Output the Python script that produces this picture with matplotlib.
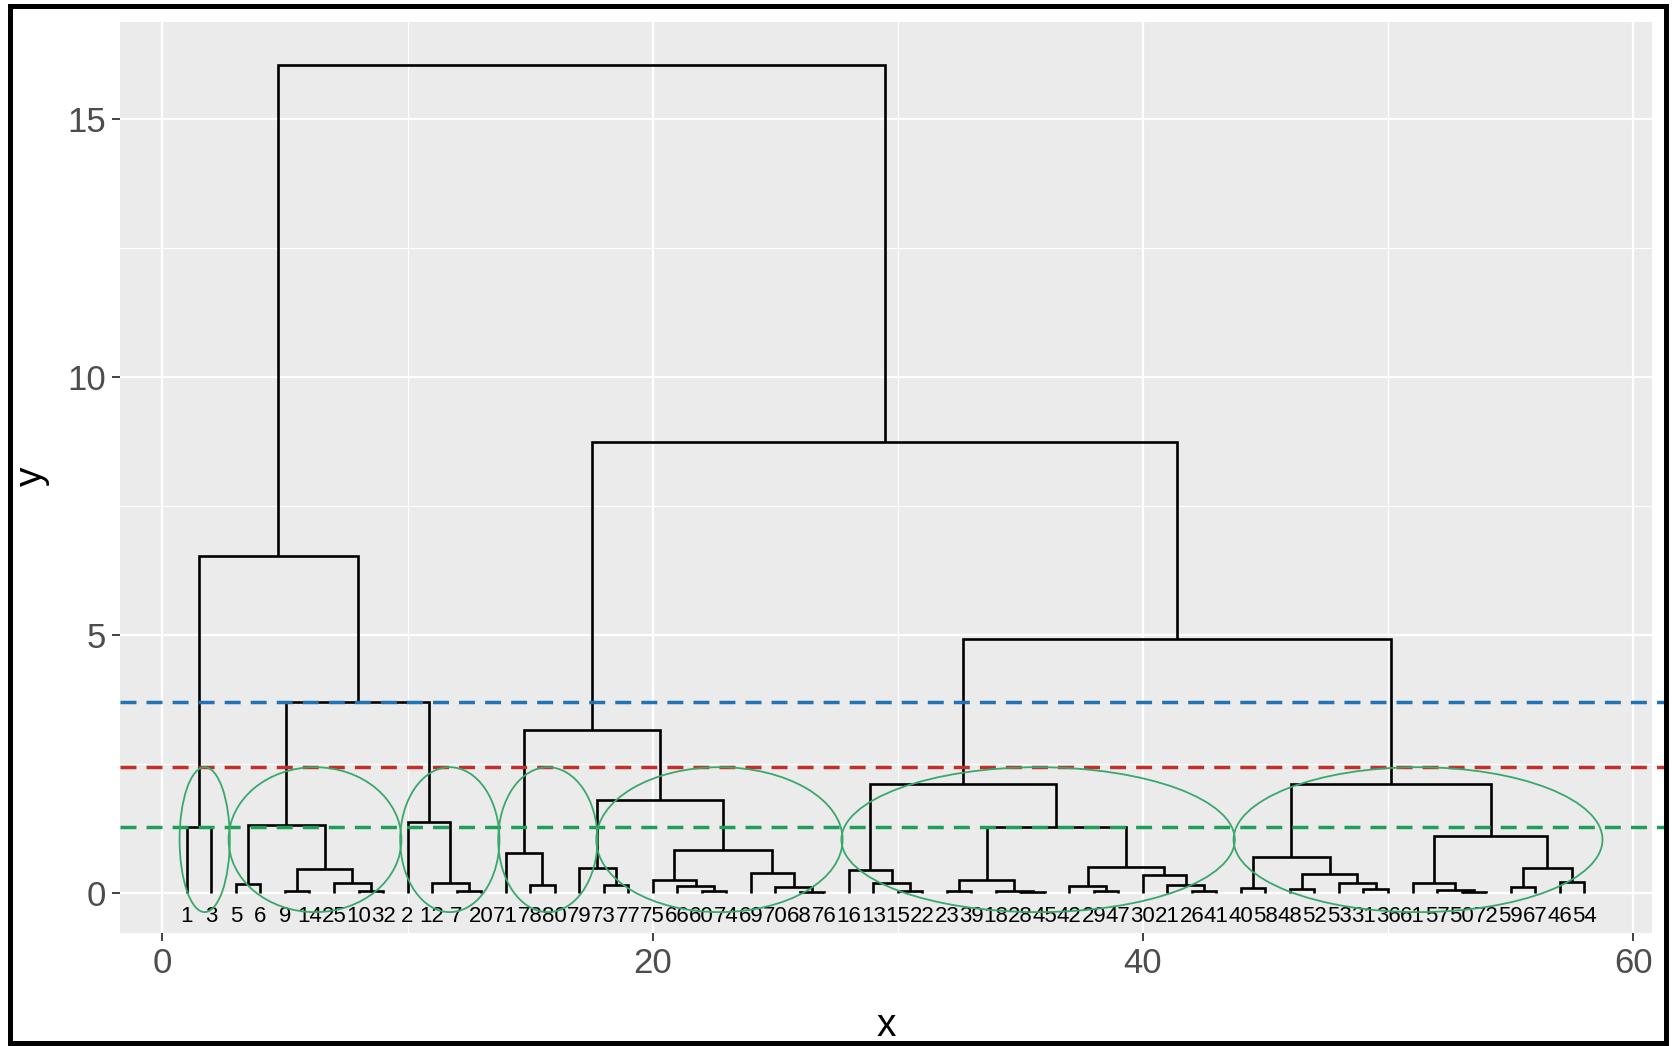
import matplotlib.pyplot as plt
import matplotlib.transforms as mtransforms
from matplotlib.patches import Ellipse, Rectangle

plt.rcParams['font.family'] = ['Liberation Sans Narrow', 'Liberation Sans', 'DejaVu Sans']

# dendrogram sub-clusters: [left, right, merge height], leaves are label strings
grp_a1 = ['1', '3', 1.27]
grp_a2 = [['5', '6', 0.17],
          [['9', '14', 0.03], ['25', ['10', '32', 0.02], 0.18], 0.45], 1.31]
grp_a3 = ['2', ['12', ['7', '20', 0.02], 0.18], 1.37]
grp_b1 = ['71', ['78', '80', 0.15], 0.76]
grp_b2 = [['79', ['73', '77', 0.15], 0.47],
          [['75', ['66', ['60', '74', 0.02], 0.13], 0.24],
           ['69', ['70', ['68', '76', 0.01], 0.10], 0.37], 0.82], 1.79]
grp_c1 = [['16', ['13', ['15', '22', 0.02], 0.18], 0.44],
          [[['23', '39', 0.02], ['18', ['28', '45', 0.01], 0.03], 0.24],
           [['42', ['29', '47', 0.02], 0.13],
            ['30', ['21', ['26', '41', 0.02], 0.15], 0.34], 0.50], 1.28], 2.11]
grp_c2 = [[['40', '58', 0.08],
           [['48', '52', 0.06], ['53', ['31', '36', 0.07], 0.19], 0.36], 0.69],
          [['61', ['57', ['50', '72', 0.01], 0.05], 0.18],
           [['59', '67', 0.11], ['46', '54', 0.21], 0.47], 1.09], 2.11]

left_tree = [grp_a1, [grp_a2, grp_a3, 3.70], 6.53]
right_tree = [[grp_b1, grp_b2, 3.15], [grp_c1, grp_c2, 4.91], 8.74]
root = [left_tree, right_tree, 16.05]

# cut heights (dashed lines)
cut_heights = [3.70, 2.43, 1.28]
cut_colors = ['#2272b6', '#c52f2a', '#1f9e57']

# hand drawn ellipses: first and last leaf enclosed
ellipse_spans = [('1', '3'), ('5', '32'), ('2', '20'), ('71', '79'),
                 ('73', '76'), ('16', '41'), ('40', '54')]


def layout(node, leaves, paths):
    if isinstance(node, str):
        leaves.append(node)
        return float(len(leaves)), 0.0
    left, right, h = node
    xl, hl = layout(left, leaves, paths)
    xr, hr = layout(right, leaves, paths)
    paths.append(([xl, xl, xr, xr], [hl, h, h, hr]))
    return (xl + xr) / 2, h


leaves = []
paths = []
layout(root, leaves, paths)
pos = {lab: i + 1 for i, lab in enumerate(leaves)}

fig = plt.figure(figsize=(16.76, 10.46), dpi=100)
ax = fig.add_axes([120 / 1676, 113 / 1046, 1532 / 1676, 911 / 1046])
ax.set_facecolor('#EBEBEB')
for s in ax.spines.values():
    s.set_visible(False)

ax.set_xlim(-1.73, 60.77)
ax.set_ylim(-0.785, 16.88)
ax.set_xticks([0, 20, 40, 60])
ax.set_xticks([10, 30, 50], minor=True)
ax.set_yticks([0, 5, 10, 15])
ax.set_yticks([2.5, 7.5, 12.5], minor=True)
ax.grid(which='major', color='white', linewidth=1.6)
ax.grid(which='minor', color='white', linewidth=0.8)
ax.set_axisbelow(True)
ax.tick_params(which='major', length=6, width=1.3, color='#333333',
               labelsize=25, labelcolor='#4D4D4D', pad=4)
ax.tick_params(which='minor', length=0)

for xs, ys in paths:
    ax.plot(xs, ys, color='black', linewidth=1.9, solid_joinstyle='miter',
            solid_capstyle='butt', zorder=3)

for lab in leaves:
    ax.text(pos[lab], -0.47, lab, ha='center', va='center', fontsize=16,
            color='black', zorder=3)

trans = mtransforms.blended_transform_factory(ax.transAxes, ax.transData)
for h, c in zip(cut_heights, cut_colors):
    ax.plot([0, 1.0105], [h, h], transform=trans, color=c, linewidth=2.5,
            linestyle=(0, (4.6, 2.9)), clip_on=False, zorder=4)

top = cut_heights[1]
bottom = -0.38
for a, b in ellipse_spans:
    x0 = pos[a] - 0.3
    x1 = pos[b] + 0.75
    e = Ellipse(((x0 + x1) / 2, (top + bottom) / 2), x1 - x0, top - bottom,
                fill=False, edgecolor='#3aa86a', linewidth=1.3, zorder=5)
    ax.add_patch(e)

ax.set_xlabel('x', fontsize=28)
ax.set_ylabel('y', fontsize=28)
ax.xaxis.set_label_coords(0.5, -0.102)
ax.xaxis.label.set_verticalalignment('center')
ax.yaxis.set_label_coords(-0.0574, 0.501)
ax.yaxis.label.set_verticalalignment('center')

fig.patches.append(Rectangle((9.5 / 1676, 3 / 1046), 1656 / 1676, 1037.5 / 1046,
                             transform=fig.transFigure, fill=False,
                             edgecolor='black', linewidth=3.6))

fig.savefig('out.png', dpi=100)
